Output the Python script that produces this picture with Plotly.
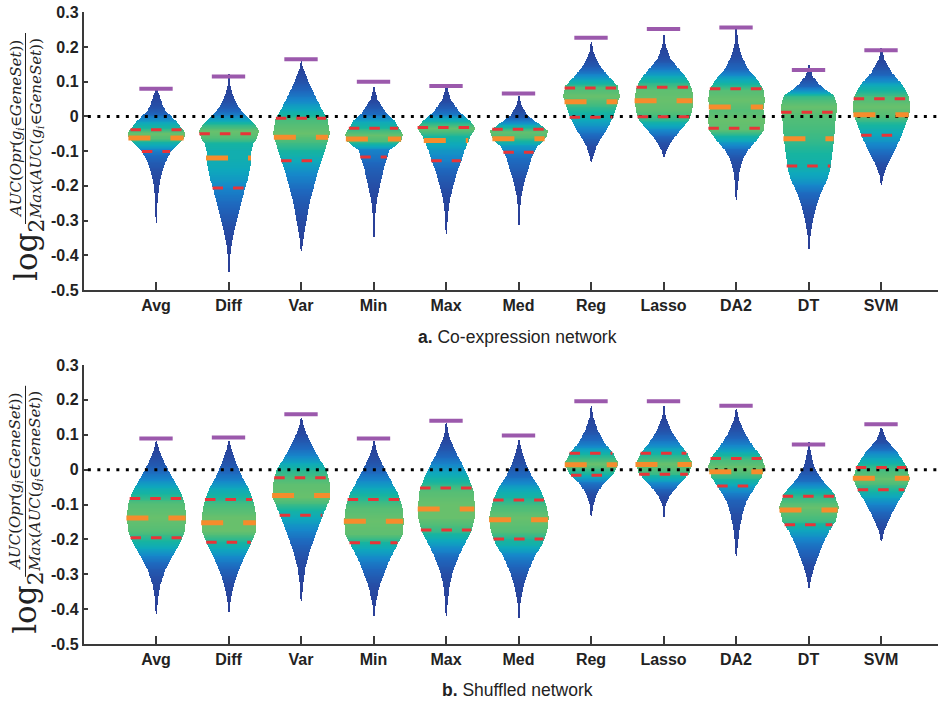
import numpy as np
import plotly.graph_objects as go

# ---------------- data ----------------
categories = ["Avg", "Diff", "Var", "Min", "Max", "Med", "Reg", "Lasso", "DA2", "DT", "SVM"]
yticks = [0.3, 0.2, 0.1, 0.0, -0.1, -0.2, -0.3, -0.4, -0.5]
yticktext = ["0.3", "0.2", "0.1", "0", "-0.1", "-0.2", "-0.3", "-0.4", "-0.5"]

# panel a: co-expression network
coexp_max = [0.080, 0.115, 0.165, 0.100, 0.088, 0.066, 0.227, 0.252, 0.256, 0.134, 0.191]
coexp_q3 = [-0.038, -0.050, -0.005, -0.034, -0.032, -0.037, 0.082, 0.084, 0.080, 0.012, 0.051]
coexp_median = [-0.062, -0.120, -0.060, -0.065, -0.069, -0.064, 0.042, 0.045, 0.027, -0.064, 0.005]
coexp_q1 = [-0.101, -0.206, -0.128, -0.117, -0.128, -0.103, -0.002, -0.001, -0.034, -0.143, -0.054]

# density profiles (value levels and violin half-widths), panel a
coexp_dens_y = [
    [0.08, 0.062, 0.033, 0.014, -0.005, -0.025, -0.039, -0.048, -0.0625, -0.077, -0.101, -0.13, -0.159, -0.187, -0.24, -0.33],
    [0.13, 0.091, 0.062, 0.033, 0.014, -0.005, -0.025, -0.043, -0.06, -0.08, -0.10, -0.12, -0.15, -0.18, -0.206, -0.24, -0.28, -0.32, -0.365, -0.41, -0.46],
    [0.163, 0.144, 0.096, 0.048, 0.019, -0.01, -0.048, -0.086, -0.125, -0.163, -0.202, -0.24, -0.288, -0.336, -0.393],
    [0.086, 0.048, 0.010, -0.014, -0.034, -0.053, -0.072, -0.096, -0.12, -0.144, -0.192, -0.24, -0.288, -0.37],
    [0.091, 0.048, 0.01, -0.014, -0.034, -0.053, -0.072, -0.096, -0.125, -0.163, -0.2, -0.24, -0.288, -0.35],
    [0.062, 0.029, 0.0, -0.024, -0.043, -0.062, -0.086, -0.115, -0.144, -0.182, -0.221, -0.259, -0.326],
    [0.216, 0.182, 0.144, 0.115, 0.086, 0.058, 0.029, 0.0, -0.029, -0.058, -0.086, -0.115, -0.134],
    [0.24, 0.202, 0.163, 0.134, 0.106, 0.077, 0.048, 0.019, -0.01, -0.038, -0.067, -0.096, -0.12],
    [0.264, 0.211, 0.173, 0.134, 0.106, 0.077, 0.048, 0.019, -0.01, -0.038, -0.067, -0.096, -0.125, -0.163, -0.211, -0.25],
    [0.149, 0.115, 0.086, 0.058, 0.029, 0.0, -0.029, -0.067, -0.106, -0.144, -0.182, -0.221, -0.259, -0.298, -0.336, -0.389],
    [0.2, 0.163, 0.125, 0.086, 0.058, 0.029, 0.0, -0.029, -0.067, -0.106, -0.144, -0.173, -0.2],
]
coexp_dens_w = [
    [0, 0.035, 0.08, 0.126, 0.22, 0.31, 0.355, 0.40, 0.38, 0.31, 0.195, 0.126, 0.08, 0.046, 0.015, 0],
    [0, 0.014, 0.05, 0.11, 0.17, 0.26, 0.36, 0.41, 0.39, 0.33, 0.31, 0.31, 0.29, 0.26, 0.22, 0.18, 0.13, 0.083, 0.037, 0.014, 0],
    [0, 0.014, 0.10, 0.21, 0.28, 0.36, 0.39, 0.34, 0.28, 0.22, 0.17, 0.12, 0.078, 0.037, 0],
    [0, 0.046, 0.16, 0.28, 0.34, 0.40, 0.37, 0.21, 0.18, 0.14, 0.09, 0.04, 0.014, 0],
    [0, 0.055, 0.18, 0.32, 0.40, 0.34, 0.30, 0.25, 0.21, 0.14, 0.092, 0.046, 0.018, 0],
    [0, 0.037, 0.115, 0.28, 0.40, 0.37, 0.25, 0.18, 0.14, 0.083, 0.037, 0.018, 0],
    [0, 0.028, 0.115, 0.23, 0.36, 0.39, 0.345, 0.30, 0.23, 0.147, 0.069, 0.023, 0],
    [0, 0.023, 0.092, 0.21, 0.32, 0.39, 0.40, 0.39, 0.345, 0.23, 0.115, 0.037, 0],
    [0, 0.023, 0.069, 0.16, 0.28, 0.37, 0.39, 0.37, 0.39, 0.38, 0.28, 0.16, 0.083, 0.037, 0.014, 0],
    [0, 0.046, 0.16, 0.345, 0.39, 0.37, 0.36, 0.345, 0.32, 0.30, 0.25, 0.16, 0.10, 0.055, 0.023, 0],
    [0, 0.037, 0.138, 0.30, 0.37, 0.40, 0.377, 0.32, 0.25, 0.16, 0.069, 0.023, 0],
]

# panel b: shuffled network
shuf_max = [0.089, 0.092, 0.159, 0.089, 0.140, 0.098, 0.196, 0.196, 0.183, 0.072, 0.130]
shuf_q3 = [-0.083, -0.086, -0.023, -0.086, -0.053, -0.087, 0.047, 0.047, 0.032, -0.076, 0.006]
shuf_median = [-0.139, -0.152, -0.074, -0.148, -0.113, -0.144, 0.014, 0.015, -0.006, -0.116, -0.025]
shuf_q1 = [-0.195, -0.208, -0.131, -0.210, -0.173, -0.199, -0.016, -0.013, -0.047, -0.158, -0.058]

shuf_dens_y = [
    [0.084, 0.055, 0.017, -0.021, -0.059, -0.098, -0.136, -0.174, -0.212, -0.25, -0.289, -0.327, -0.375, -0.423],
    [0.084, 0.055, 0.017, -0.021, -0.059, -0.098, -0.136, -0.174, -0.212, -0.25, -0.289, -0.327, -0.365, -0.413],
    [0.151, 0.113, 0.075, 0.036, -0.002, -0.04, -0.078, -0.117, -0.155, -0.193, -0.231, -0.279, -0.327, -0.384],
    [0.084, 0.046, 0.008, -0.031, -0.069, -0.107, -0.145, -0.184, -0.222, -0.26, -0.298, -0.337, -0.384, -0.423],
    [0.137, 0.094, 0.055, 0.017, -0.021, -0.059, -0.098, -0.136, -0.174, -0.212, -0.25, -0.289, -0.327, -0.384, -0.432],
    [0.089, 0.055, 0.017, -0.021, -0.059, -0.098, -0.136, -0.174, -0.212, -0.25, -0.289, -0.327, -0.375, -0.432],
    [0.185, 0.151, 0.113, 0.075, 0.046, 0.017, -0.011, -0.04, -0.069, -0.098, -0.136],
    [0.185, 0.151, 0.113, 0.075, 0.046, 0.017, -0.011, -0.04, -0.069, -0.098, -0.141],
    [0.175, 0.141, 0.103, 0.065, 0.036, 0.008, -0.021, -0.05, -0.088, -0.126, -0.164, -0.212, -0.255],
    [0.084, 0.046, 0.008, -0.031, -0.069, -0.107, -0.145, -0.174, -0.203, -0.241, -0.279, -0.317, -0.341],
    [0.122, 0.084, 0.046, 0.008, -0.026, -0.059, -0.098, -0.136, -0.174, -0.207],
]
shuf_dens_w = [
    [0, 0.037, 0.115, 0.21, 0.32, 0.39, 0.41, 0.39, 0.32, 0.21, 0.115, 0.055, 0.018, 0],
    [0, 0.037, 0.10, 0.18, 0.28, 0.345, 0.377, 0.377, 0.30, 0.21, 0.13, 0.069, 0.028, 0],
    [0, 0.046, 0.13, 0.23, 0.345, 0.39, 0.40, 0.32, 0.25, 0.18, 0.115, 0.055, 0.023, 0],
    [0, 0.046, 0.13, 0.23, 0.33, 0.39, 0.41, 0.40, 0.30, 0.21, 0.138, 0.069, 0.023, 0],
    [0, 0.037, 0.115, 0.21, 0.30, 0.37, 0.39, 0.39, 0.345, 0.25, 0.16, 0.092, 0.046, 0.014, 0],
    [0, 0.037, 0.092, 0.18, 0.30, 0.37, 0.41, 0.39, 0.32, 0.21, 0.13, 0.069, 0.023, 0],
    [0, 0.023, 0.083, 0.18, 0.30, 0.37, 0.30, 0.16, 0.069, 0.028, 0],
    [0, 0.023, 0.092, 0.21, 0.32, 0.39, 0.345, 0.21, 0.092, 0.023, 0],
    [0, 0.037, 0.115, 0.23, 0.345, 0.39, 0.345, 0.25, 0.138, 0.083, 0.046, 0.018, 0],
    [0, 0.028, 0.069, 0.18, 0.345, 0.41, 0.37, 0.28, 0.21, 0.138, 0.069, 0.023, 0],
    [0, 0.069, 0.23, 0.345, 0.39, 0.32, 0.21, 0.115, 0.037, 0],
]

# ---------------- styling ----------------
W, H = 938, 703
XR = [-1.0, 10.786]
STEP = 0.0025
COLORSCALE = [
    [0.0, "rgb(42,62,150)"],
    [0.2, "rgb(38,78,166)"],
    [0.4, "rgb(30,104,190)"],
    [0.55, "rgb(22,135,202)"],
    [0.7, "rgb(14,168,188)"],
    [0.82, "rgb(22,180,160)"],
    [0.92, "rgb(72,188,124)"],
    [1.0, "rgb(104,192,108)"],
]
PURPLE = "rgb(155,89,172)"
ORANGE = "rgb(246,140,44)"
RED = "rgb(232,52,56)"
AXCOL = "#3a3a3a"
TICKFONT = dict(family="Liberation Sans, Arial", size=16, color="#222", weight="bold")

fig = go.Figure()


def half_width(ys, ws, v):
    ys = np.asarray(ys)[::-1]
    ws = np.asarray(ws)[::-1]
    return float(np.interp(v, ys, ws))


def add_panel(xa, ya, dens_y, dens_w, vmax, q3, med, q1):
    by, bb, bx, bc = [], [], [], []
    for i in range(len(categories)):
        ys = np.asarray(dens_y[i])[::-1]
        ws = np.asarray(dens_w[i])[::-1]
        levels = np.arange(ys[0], ys[-1], STEP)
        hw = np.interp(levels, ys, ws)
        keep = hw > 0.004
        wmax = max(ws)
        by.extend(levels[keep])
        bb.extend(i - hw[keep])
        bx.extend(2 * hw[keep])
        bc.extend(hw[keep] / wmax)
    fig.add_trace(go.Bar(
        y=by, x=bx, base=bb, orientation="h", width=STEP * 1.5,
        marker=dict(color=bc, colorscale=COLORSCALE, cmin=0, cmax=1, line=dict(width=0)),
        xaxis=xa, yaxis=ya, showlegend=False, hoverinfo="skip",
    ))
    # zero reference line
    fig.add_trace(go.Scatter(
        x=[-0.94, XR[1]], y=[0, 0], mode="lines",
        line=dict(color="black", width=3, dash="3px,6.5px"),
        xaxis=xa, yaxis=ya, showlegend=False, hoverinfo="skip",
    ))

    def seg_trace(vals, color, width, dash, fixed=None):
        xs, ys_ = [], []
        for i, v in enumerate(vals):
            hw = fixed if fixed is not None else half_width(dens_y[i], dens_w[i], v)
            xs += [i - hw, i + hw, None]
            ys_ += [v, v, None]
        fig.add_trace(go.Scatter(
            x=xs, y=ys_, mode="lines", line=dict(color=color, width=width, dash=dash),
            xaxis=xa, yaxis=ya, showlegend=False, hoverinfo="skip",
        ))

    seg_trace(q3, RED, 3, "10.5px,10px")
    seg_trace(q1, RED, 3, "10.5px,10px")
    seg_trace(med, ORANGE, 5, "22px,20px")
    seg_trace(vmax, PURPLE, 4, "solid", fixed=0.23)


add_panel("x", "y", coexp_dens_y, coexp_dens_w, coexp_max, coexp_q3, coexp_median, coexp_q1)
add_panel("x2", "y2", shuf_dens_y, shuf_dens_w, shuf_max, shuf_q3, shuf_median, shuf_q1)

xdom = [83.5 / W, 1.0]
top_dom = [1 - 290 / H, 1 - 12.3 / H]
bot_dom = [1 - 644 / H, 1 - 365 / H]

xaxis_common = dict(
    range=XR, domain=xdom, tickmode="array", tickvals=list(range(len(categories))),
    ticktext=categories, ticks="inside", ticklen=8, tickwidth=1.5, tickcolor=AXCOL,
    showline=True, linecolor=AXCOL, linewidth=1.5, showgrid=False, zeroline=False,
    tickfont=TICKFONT, fixedrange=True, automargin=False,
)
yaxis_common = dict(
    range=[-0.5, 0.3], tickmode="array", tickvals=yticks, ticktext=yticktext,
    ticks="inside", ticklen=5, tickwidth=1.5, tickcolor=AXCOL,
    showline=True, linecolor=AXCOL, linewidth=1.5, showgrid=False, zeroline=False,
    tickfont=TICKFONT, fixedrange=True, automargin=False,
)

fig.update_layout(
    width=W, height=H, margin=dict(l=0, r=0, t=0, b=0, pad=0), autosize=False,
    paper_bgcolor="white", plot_bgcolor="white", barmode="overlay", bargap=0,
    xaxis=dict(anchor="y", **xaxis_common),
    yaxis=dict(anchor="x", domain=top_dom, **yaxis_common),
    xaxis2=dict(anchor="y2", **xaxis_common),
    yaxis2=dict(anchor="x2", domain=bot_dom, **yaxis_common),
)

num = "<i>AUC</i>(<i>Opr</i>(<i>g<sub>i</sub></i>∈<i>GeneSet</i>))"
den = "<i>Max</i>(<i>AUC</i>(<i>g<sub>i</sub></i>∈<i>GeneSet</i>))"
SERIF = "DejaVu Serif, Liberation Serif, serif"

annotations = []
shapes = []
for shift in (0.0, 352.8):
    annotations.append(dict(text=num, x=16 / W, y=1 - (129 + shift) / H, xref="paper", yref="paper",
                            textangle=-90, showarrow=False, xanchor="center", yanchor="middle",
                            font=dict(family=SERIF, size=15, color="#222")))
    annotations.append(dict(text=den, x=36 / W, y=1 - (129 + shift) / H, xref="paper", yref="paper",
                            textangle=-90, showarrow=False, xanchor="center", yanchor="middle",
                            font=dict(family=SERIF, size=15, color="#222")))
    annotations.append(dict(text="log<sub>2</sub>", x=28 / W, y=1 - (250 + shift) / H, xref="paper", yref="paper",
                            textangle=-90, showarrow=False, xanchor="center", yanchor="middle",
                            font=dict(family=SERIF, size=31, color="#222")))
    shapes.append(dict(type="line", xref="paper", yref="paper", x0=25.5 / W, x1=25.5 / W,
                       y0=1 - (33 + shift) / H, y1=1 - (224 + shift) / H,
                       line=dict(color="#222", width=1)))

annotations.append(dict(text="<b>a.</b> Co-expression network", x=517 / W, y=1 - 337 / H,
                        xref="paper", yref="paper", showarrow=False, xanchor="center", yanchor="middle",
                        font=dict(family="Liberation Sans, Arial", size=17.5, color="#222")))
annotations.append(dict(text="<b>b.</b> Shuffled network", x=517 / W, y=1 - 690 / H,
                        xref="paper", yref="paper", showarrow=False, xanchor="center", yanchor="middle",
                        font=dict(family="Liberation Sans, Arial", size=17.5, color="#222")))

fig.update_layout(annotations=annotations, shapes=shapes)
fig.write_html(
    "out.html",
    config={"displayModeBar": False},
    post_script="document.body.style.margin='0px';document.body.style.padding='0px';",
)
